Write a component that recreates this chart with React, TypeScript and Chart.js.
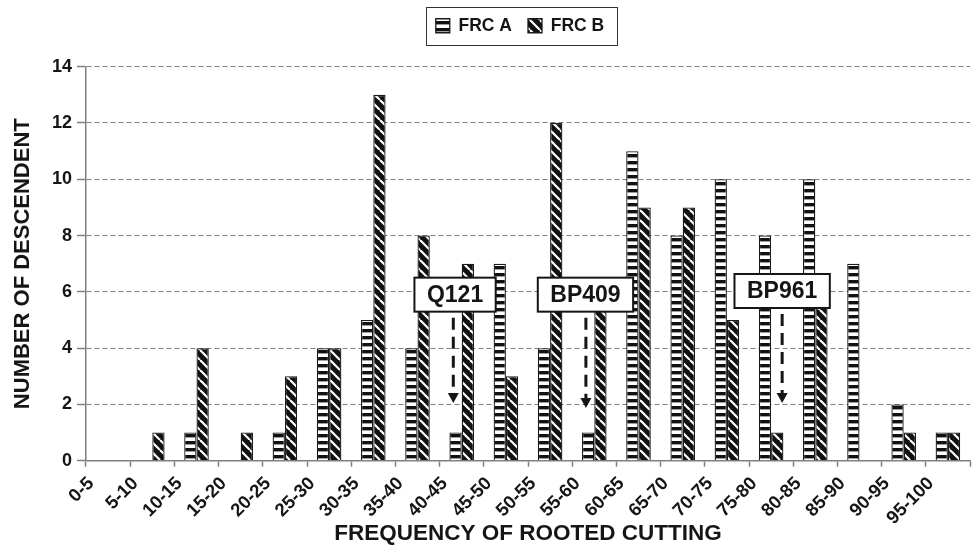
import React, { useEffect, useRef } from 'react';
import { Chart, registerables } from 'chart.js';

Chart.register(...registerables);

const categories = [
  '0-5', '5-10', '10-15', '15-20', '20-25', '25-30', '30-35', '35-40', '40-45', '45-50',
  '50-55', '55-60', '60-65', '65-70', '70-75', '75-80', '80-85', '85-90', '90-95', '95-100',
];
const frcA = [0, 0, 1, 0, 1, 4, 5, 4, 1, 7, 4, 1, 11, 8, 10, 8, 10, 7, 2, 1];
const frcB = [0, 1, 4, 1, 3, 4, 13, 8, 7, 3, 12, 6, 9, 9, 5, 1, 6, 0, 1, 1];
const seriesNames = ['FRC A', 'FRC B'];
const yMin = 0;
const yMax = 14;
const yStep = 2;
const xTitle = 'FREQUENCY OF ROOTED CUTTING';
const yTitle = 'NUMBER OF DESCENDENT';

const annotationLabels = ['Q121', 'BP409', 'BP961'];
const annotationCategory = ['40-45', '55-60', '75-80'];
const annotationLabelValue = [5.9, 5.9, 6.03];
const annotationArrowTip = [2.05, 1.87, 2.05];

// layout placement of annotations (fraction of a category width from the category centre)
const annotationLabelShift = [-0.15, -0.2, 0.25];
const annotationArrowShift = [-0.19, -0.19, 0.25];

const FONT = "'Liberation Sans', Arial, Helvetica, sans-serif";
const INK = '#151515';
const GRID = '#808080';

function makeHorizontalPattern(): CanvasPattern | string {
  const w = 4;
  const h = 7;
  const c = document.createElement('canvas');
  c.width = w;
  c.height = h;
  const g = c.getContext('2d');
  if (!g) return '#555';
  g.fillStyle = '#fff';
  g.fillRect(0, 0, w, h);
  g.fillStyle = '#111';
  g.fillRect(0, 0, w, 3.4);
  return g.createPattern(c, 'repeat') || '#555';
}

function makeDiagonalPattern(): CanvasPattern | string {
  const s = 10;
  const c = document.createElement('canvas');
  c.width = s;
  c.height = s;
  const g = c.getContext('2d');
  if (!g) return '#222';
  g.fillStyle = '#111';
  g.fillRect(0, 0, s, s);
  g.strokeStyle = '#fff';
  g.lineWidth = 2.2;
  for (const k of [-1, 0, 1]) {
    g.beginPath();
    g.moveTo(k * s, 0);
    g.lineTo(k * s + s, s);
    g.stroke();
  }
  return g.createPattern(c, 'repeat') || '#222';
}

const legendHeightPlugin = {
  id: 'legendHeight',
  beforeLayout(chart: any) {
    const lg = chart.legend;
    if (!lg || lg.__wrapped) return;
    const fit = lg.fit.bind(lg);
    lg.fit = () => {
      fit();
      lg.height = 65.7;
    };
    lg.__wrapped = true;
  },
  afterLayout(chart: any) {
    const lg = chart.legend;
    if (!lg) return;
    lg.left -= 8;
    lg.right -= 8;
  },
};

const legendBorderPlugin = {
  id: 'legendBorder',
  afterDraw(chart: any) {
    const lg = chart.legend;
    if (!lg || !lg.legendHitBoxes || !lg.legendHitBoxes.length) return;
    const hb = lg.legendHitBoxes;
    const left = Math.min(...hb.map((h: any) => h.left)) - 10;
    const right = Math.max(...hb.map((h: any) => h.left + h.width)) + 13;
    const top = Math.min(...hb.map((h: any) => h.top)) - 10;
    const bottom = Math.max(...hb.map((h: any) => h.top + h.height)) + 10.5;
    const ctx = chart.ctx;
    ctx.save();
    ctx.strokeStyle = '#333';
    ctx.lineWidth = 1;
    ctx.strokeRect(Math.round(left) + 0.5, Math.round(top) + 0.5, Math.round(right - left), Math.round(bottom - top));
    ctx.restore();
  },
};

const annotationPlugin = {
  id: 'annotations',
  afterDatasetsDraw(chart: any) {
    const { ctx } = chart;
    const x = chart.scales.x;
    const y = chart.scales.y;
    const catW = x.getPixelForTick(1) - x.getPixelForTick(0);
    ctx.save();
    annotationLabels.forEach((text, i) => {
      const idx = categories.indexOf(annotationCategory[i]);
      const center = x.getPixelForValue(idx);
      const cx = center + annotationLabelShift[i] * catW;
      const cy = y.getPixelForValue(annotationLabelValue[i]);
      ctx.font = `bold 23px ${FONT}`;
      const tw = ctx.measureText(text).width;
      const bw = tw + 25;
      const bh = 34;
      ctx.fillStyle = '#fff';
      ctx.fillRect(cx - bw / 2, cy - bh / 2, bw, bh);
      ctx.lineWidth = 2;
      ctx.strokeStyle = INK;
      ctx.strokeRect(cx - bw / 2, cy - bh / 2, bw, bh);
      ctx.fillStyle = INK;
      ctx.textAlign = 'center';
      ctx.textBaseline = 'middle';
      ctx.fillText(text, cx, cy + 1);

      const ax = center + annotationArrowShift[i] * catW;
      const y0 = cy + bh / 2 + 6;
      const tip = y.getPixelForValue(annotationArrowTip[i]);
      const head = 10;
      ctx.strokeStyle = INK;
      ctx.lineWidth = 3;
      ctx.setLineDash([12, 7]);
      ctx.beginPath();
      ctx.moveTo(ax, y0);
      ctx.lineTo(ax, tip - head);
      ctx.stroke();
      ctx.setLineDash([]);
      ctx.beginPath();
      ctx.moveTo(ax - 5.5, tip - head);
      ctx.lineTo(ax + 5.5, tip - head);
      ctx.lineTo(ax, tip);
      ctx.closePath();
      ctx.fill();
    });
    ctx.restore();
  },
};

export default function App() {
  const ref = useRef<HTMLCanvasElement>(null);

  useEffect(() => {
    if (!ref.current) return;
    const patA = makeHorizontalPattern();
    const patB = makeDiagonalPattern();
    const chart = new Chart(ref.current, {
      type: 'bar',
      data: {
        labels: categories,
        datasets: [
          {
            label: seriesNames[0],
            data: frcA,
            backgroundColor: patA as any,
            borderColor: '#1a1a1a',
            borderWidth: 1.3,
            categoryPercentage: 0.556,
            barPercentage: 1,
          },
          {
            label: seriesNames[1],
            data: frcB,
            backgroundColor: patB as any,
            borderColor: '#1a1a1a',
            borderWidth: 1.3,
            categoryPercentage: 0.556,
            barPercentage: 1,
          },
        ],
      },
      options: {
        animation: false,
        responsive: true,
        maintainAspectRatio: false,
        devicePixelRatio: 1,
        layout: { padding: { top: 1, right: 3, left: 0, bottom: 0 } },
        plugins: {
          legend: {
            position: 'top',
            fullSize: false,
            labels: {
              boxWidth: 14,
              boxHeight: 14,
              padding: 16,
              color: INK,
              font: { family: FONT, size: 17.5, weight: 'bold' },
            },
          },
          tooltip: { enabled: false },
        },
        scales: {
          x: {
            offset: true,
            grid: {
              offset: true,
              drawOnChartArea: false,
              drawTicks: true,
              tickLength: 6,
              tickColor: GRID,
              tickWidth: 1.5,
            },
            border: { display: true, color: GRID, width: 1.5 },
            ticks: {
              autoSkip: false,
              maxRotation: 45,
              minRotation: 45,
              color: INK,
              labelOffset: -17,
              padding: 6,
              font: { family: FONT, size: 18.5, weight: 'bold' },
            },
            title: {
              display: true,
              text: xTitle,
              color: INK,
              font: { family: FONT, size: 22.5, weight: 'bold' },
              padding: { top: 0, bottom: 12 },
            },
            afterFit: (s: any) => {
              s.height = 98.3;
              s.paddingLeft = 0;
              s.paddingRight = 0;
            },
          },
          y: {
            min: yMin,
            max: yMax,
            ticks: {
              stepSize: yStep,
              color: INK,
              padding: 5,
              font: { family: FONT, size: 18, weight: 'bold' },
            },
            grid: {
              color: GRID,
              lineWidth: 1,
              drawTicks: true,
              tickLength: 9,
              tickColor: GRID,
              tickWidth: 1.5,
            },
            border: { display: true, color: GRID, width: 1.5, dash: [5, 3] },
            title: {
              display: true,
              text: yTitle,
              color: INK,
              font: { family: FONT, size: 22, weight: 'bold' },
              padding: { top: 10, bottom: 0 },
            },
            afterFit: (s: any) => {
              s.width = 86;
            },
          },
        },
      } as any,
      plugins: [legendHeightPlugin, legendBorderPlugin, annotationPlugin],
    });
    return () => chart.destroy();
  }, []);

  return (
    <div style={{ position: 'fixed', left: 0, top: 0, width: 973, height: 559, background: '#fff' }}>
      <canvas ref={ref} />
    </div>
  );
}
